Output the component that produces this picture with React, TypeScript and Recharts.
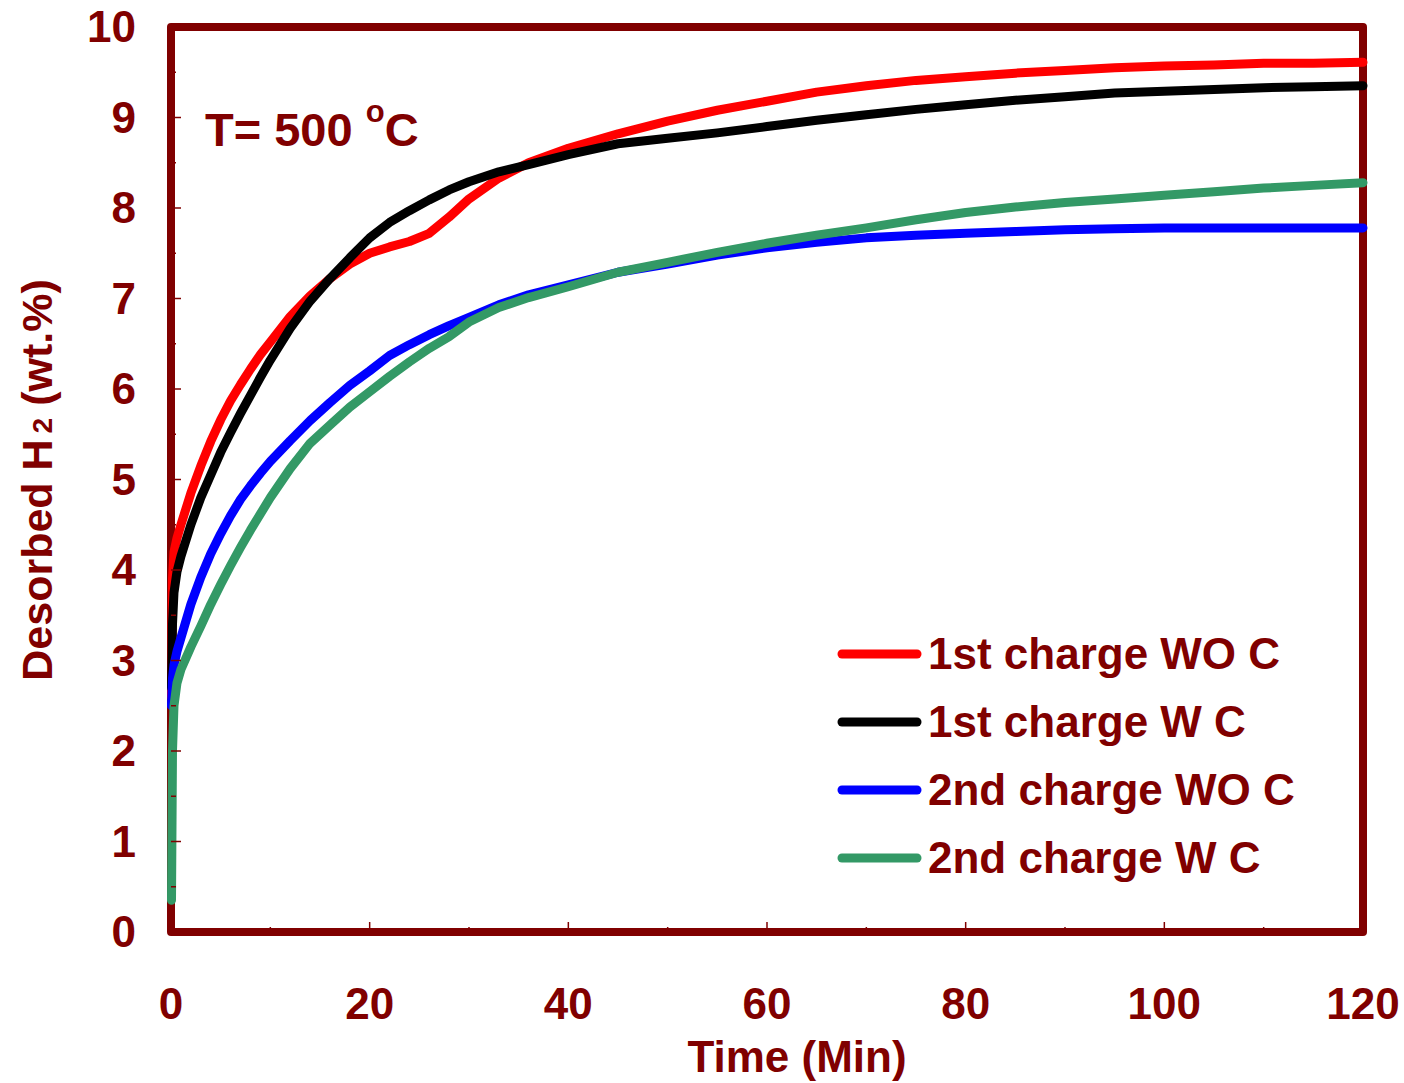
import { LineChart, Line, XAxis, YAxis, Legend, ReferenceArea, Label } from "recharts"

const times = [0.05, 0.15, 0.3, 0.6, 1, 2, 3, 4, 5, 6, 7, 8, 9, 10, 12, 14, 16, 18, 20, 22, 24, 26, 28, 30, 33, 36, 40, 45, 50, 55, 60, 65, 70, 75, 80, 85, 90, 95, 100, 105, 110, 115, 120]
const firstWoC = [2.6, 3.9, 4.2, 4.35, 4.5, 4.85, 5.15, 5.42, 5.66, 5.87, 6.05, 6.22, 6.38, 6.52, 6.8, 7.03, 7.22, 7.38, 7.5, 7.57, 7.63, 7.72, 7.9, 8.1, 8.33, 8.5, 8.66, 8.82, 8.96, 9.08, 9.18, 9.28, 9.35, 9.41, 9.45, 9.49, 9.52, 9.55, 9.57, 9.58, 9.6, 9.6, 9.61]
const firstWC = [2.7, 3.4, 3.75, 3.98, 4.15, 4.5, 4.8, 5.05, 5.3, 5.52, 5.73, 5.93, 6.13, 6.32, 6.67, 6.97, 7.22, 7.45, 7.67, 7.84, 7.97, 8.09, 8.2, 8.29, 8.4, 8.48, 8.59, 8.71, 8.77, 8.83, 8.9, 8.97, 9.03, 9.09, 9.14, 9.19, 9.23, 9.27, 9.29, 9.31, 9.33, 9.34, 9.35]
const secondWoC = [2.5, 2.8, 2.95, 3.1, 3.25, 3.62, 3.92, 4.18, 4.4, 4.6, 4.78, 4.93, 5.07, 5.2, 5.43, 5.65, 5.85, 6.04, 6.2, 6.37, 6.49, 6.6, 6.7, 6.79, 6.93, 7.04, 7.15, 7.29, 7.38, 7.48, 7.56, 7.62, 7.67, 7.7, 7.72, 7.74, 7.76, 7.77, 7.78, 7.78, 7.78, 7.78, 7.78]
const secondWC = [0.35, 2.0, 2.5, 2.75, 2.9, 3.15, 3.38, 3.62, 3.84, 4.05, 4.25, 4.44, 4.62, 4.8, 5.12, 5.4, 5.6, 5.8, 5.97, 6.14, 6.3, 6.45, 6.58, 6.74, 6.9, 7.01, 7.13, 7.29, 7.4, 7.51, 7.61, 7.7, 7.78, 7.87, 7.95, 8.01, 8.06, 8.1, 8.14, 8.18, 8.22, 8.25, 8.28]

const xTicks = [0, 10, 20, 30, 40, 50, 60, 70, 80, 90, 100, 110, 120]
const yTicks = [0, 0.5, 1, 1.5, 2, 2.5, 3, 3.5, 4, 4.5, 5, 5.5, 6, 6.5, 7, 7.5, 8, 8.5, 9, 9.5, 10]

const seriesKeys = ["r", "k", "b", "g"]
const seriesNames = ["1st charge WO C", "1st charge W C", "2nd charge WO C", "2nd charge W C"]
const seriesColors = ["#ff0000", "#000000", "#0000ff", "#339966"]

const DARK = "#800000"
const FONT = "'Liberation Sans', Arial, sans-serif"

const data = times.map((t, i) => ({ t, r: firstWoC[i], k: firstWC[i], b: secondWoC[i], g: secondWC[i] }))

function XTick({ x, y, payload }: any) {
    const v = payload.value
    const major = v % 20 === 0
    return (
        <g>
            <line x1={x} x2={x} y1={y} y2={y - (major ? 10 : 5)} stroke={DARK} strokeWidth={1.5} />
            {major && (
                <text x={x} y={y + 87} textAnchor="middle" fill={DARK} fontFamily={FONT} fontWeight="bold" fontSize={44}>
                    {v}
                </text>
            )}
        </g>
    )
}

function YTick({ x, y, payload }: any) {
    const v = payload.value
    const major = Number.isInteger(v)
    return (
        <g>
            <line x1={x} x2={x + (major ? 10 : 5)} y1={y} y2={y} stroke={DARK} strokeWidth={1.5} />
            {major && (
                <text x={x - 35} y={y + 15} textAnchor="end" fill={DARK} fontFamily={FONT} fontWeight="bold" fontSize={44}>
                    {v}
                </text>
            )}
        </g>
    )
}

function LegendBox() {
    return (
        <div style={{ fontFamily: FONT, fontWeight: "bold", fontSize: 44, color: DARK, textAlign: "left" }}>
            {seriesNames.map((n, i) => (
                <div key={n} style={{ display: "flex", alignItems: "center", height: 68, whiteSpace: "nowrap" }}>
                    <svg width={92} height={20}>
                        <line x1={6} x2={81} y1={10} y2={10} stroke={seriesColors[i]} strokeWidth={9} strokeLinecap="round" />
                    </svg>
                    <span>{n}</span>
                </div>
            ))}
        </div>
    )
}

export default function App() {
    return (
        <div style={{ position: "absolute", left: 0, top: 0, width: 1404, height: 1083, background: "#fff" }}>
            <LineChart width={1404} height={1083} data={data} margin={{ top: 27, right: 41, bottom: 150, left: 170 }}>
                <XAxis dataKey="t" type="number" domain={[0, 120]} ticks={xTicks} interval={0}
                    height={1} tickSize={0} tickMargin={0} axisLine={false} tickLine={false} tick={<XTick />}>
                    <Label content={() => (
                        <text x={797} y={1072} textAnchor="middle" fill={DARK} fontFamily={FONT} fontWeight="bold" fontSize={44}>
                            Time (Min)
                        </text>
                    )} />
                </XAxis>
                <YAxis type="number" domain={[0, 10]} ticks={yTicks} interval={0}
                    width={1} tickSize={0} tickMargin={0} axisLine={false} tickLine={false} tick={<YTick />}>
                    <Label content={() => (
                        <g>
                            <text transform="translate(52,480) rotate(-90)" textAnchor="middle" fill={DARK} fontFamily={FONT} fontWeight="bold" fontSize={43} style={{ whiteSpace: "pre" }}>
                                Desorbed H<tspan fontSize={28} dx={6}>2</tspan> (wt.%)
                            </text>
                            <text x={205} y={146} fill={DARK} fontFamily={FONT} fontWeight="bold" fontSize={47} style={{ whiteSpace: "pre" }}>
                                {"T= 500 "}<tspan fontSize={31} dy={-24}>o</tspan><tspan dy={24}>C</tspan>
                            </text>
                        </g>
                    )} />
                </YAxis>
                <ReferenceArea x1={0} x2={120} y1={0} y2={10} fill="none" stroke={DARK} strokeWidth={8} strokeLinejoin="round" />
                {seriesKeys.map((k, i) => (
                    <Line key={k} type="linear" dataKey={k} name={seriesNames[i]} stroke={seriesColors[i]} strokeWidth={9}
                        strokeLinejoin="round" strokeLinecap="round" dot={false} isAnimationActive={false} />
                ))}
                <Legend layout="horizontal" verticalAlign="middle" align="center"
                    wrapperStyle={{ left: 836, top: 620, width: 520 }} content={() => <LegendBox />} />
            </LineChart>
        </div>
    )
}
